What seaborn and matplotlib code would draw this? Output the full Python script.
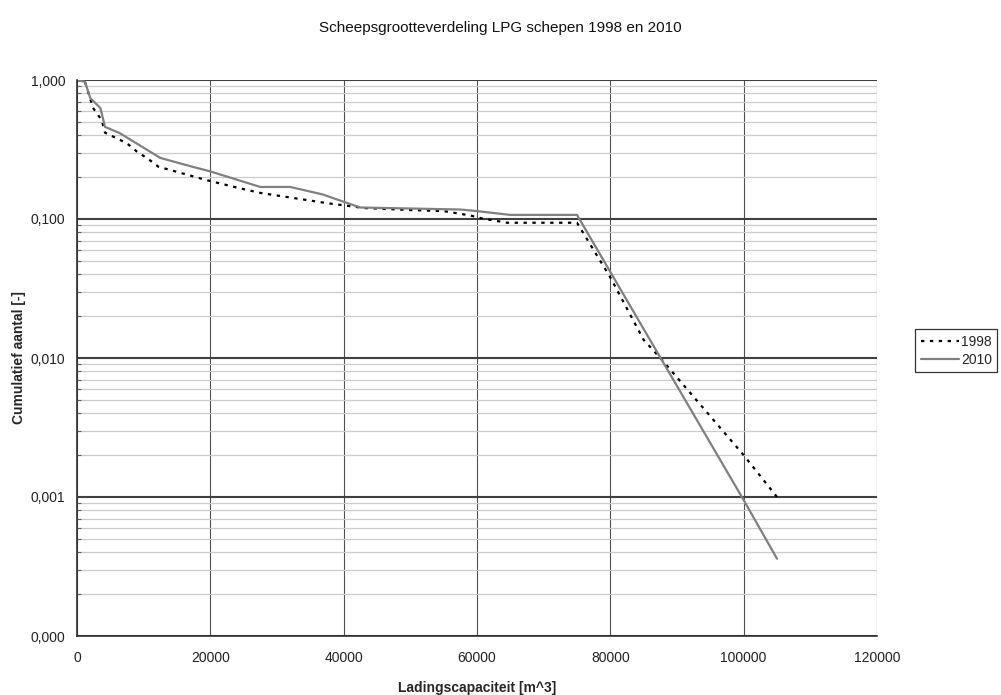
import matplotlib
matplotlib.use("Agg")
import matplotlib.pyplot as plt
from matplotlib.ticker import FixedLocator, FuncFormatter, LogLocator, NullFormatter
from matplotlib.lines import Line2D
import seaborn as sns
import pandas as pd
import numpy as np

# --- data ---
x_1998 = [0, 1200, 2400, 3700, 4200, 7500, 9000, 10700, 12200, 19500, 24500, 27500,
          37500, 41400, 43000, 50000, 55000, 59000, 60700, 64500, 75000, 80000, 85000,
          87500, 100000, 105000]
y_1998 = [1.0, 0.97, 0.63, 0.515, 0.418, 0.35, 0.305, 0.27, 0.238, 0.19, 0.166, 0.154,
          0.13, 0.123, 0.12, 0.116, 0.114, 0.106, 0.101, 0.094, 0.094, 0.038, 0.0135,
          0.01, 0.002, 0.001]

x_2010 = [0, 1200, 2000, 3500, 4200, 6400, 12500, 17400, 20000, 27500, 32000, 36900,
          40000, 42500, 57500, 60000, 65000, 75000, 100000, 105000]
y_2010 = [1.0, 0.97, 0.74, 0.63, 0.46, 0.415, 0.275, 0.237, 0.22, 0.17, 0.17, 0.15,
          0.133, 0.121, 0.117, 0.114, 0.107, 0.107, 0.00095, 0.00036]

series_names = ["1998", "2010"]
x_ticks = [0, 20000, 40000, 60000, 80000, 100000, 120000]
y_ticks = [1e-4, 1e-3, 1e-2, 1e-1, 1.0]

title = "Scheepsgrootteverdeling LPG schepen 1998 en 2010"
xlabel = "Ladingscapaciteit [m^3]"
ylabel = "Cumulatief aantal [-]"

df = pd.concat([
    pd.DataFrame({"x": x_1998, "y": y_1998, "jaar": series_names[0]}),
    pd.DataFrame({"x": x_2010, "y": y_2010, "jaar": series_names[1]}),
], ignore_index=True)

sns.set_style("white")
plt.rcParams["font.family"] = ["Liberation Sans Narrow", "Liberation Sans", "DejaVu Sans"]

W, H = 1001, 695
fig = plt.figure(figsize=(W / 100, H / 100), dpi=100)
ax = fig.add_axes([77 / W, 1 - 636 / H, 800 / W, 556 / H])

palette = {"1998": "#000000", "2010": "#808080"}
dashes = {"1998": (1.5, 2.5), "2010": ""}
sns.lineplot(data=df, x="x", y="y", hue="jaar", style="jaar", palette=palette,
             dashes=dashes, sort=False, estimator=None, linewidth=1.6, ax=ax,
             legend=False)

ax.set_yscale("log")
ax.set_xlim(0, 120000)
ax.set_ylim(1e-4, 1.0)

ax.xaxis.set_major_locator(FixedLocator(x_ticks))
ax.xaxis.set_major_formatter(FuncFormatter(lambda v, p: f"{int(v)}"))
ax.yaxis.set_major_locator(FixedLocator(y_ticks))
ax.yaxis.set_major_formatter(FuncFormatter(lambda v, p: f"{v:.3f}".replace(".", ",")))
ax.yaxis.set_minor_locator(LogLocator(base=10, subs=np.arange(2, 10), numticks=20))
ax.yaxis.set_minor_formatter(NullFormatter())

ax.grid(False)
ax.grid(True, axis="x", which="major", color="#505050", linewidth=0.8)
ax.grid(True, axis="y", which="major", color="#404040", linewidth=1.5)
ax.grid(True, axis="y", which="minor", color="#cccccc", linewidth=0.9)
ax.set_axisbelow(True)

for s in ["top", "right"]:
    ax.spines[s].set_visible(False)
for s in ["left", "bottom"]:
    ax.spines[s].set_color("#303030")
    ax.spines[s].set_linewidth(1.2)

ax.tick_params(axis="both", which="major", direction="out", length=5, width=1,
               color="#303030", labelsize=10, labelcolor="#222222")
ax.tick_params(axis="y", which="minor", direction="in", length=3, width=0.8,
               color="#606060", left=True)
ax.tick_params(axis="x", pad=6)

ax.set_xlabel(xlabel, fontsize=10, fontweight="bold", labelpad=11)
ax.set_ylabel(ylabel, fontsize=10, fontweight="bold", labelpad=3)
fig.text(0.5, 1 - 28 / H, title, ha="center", va="center", fontsize=11, color="#111111")

handles = [Line2D([0], [0], color="#000000", lw=1.6, dashes=(1.5, 2.5)),
           Line2D([0], [0], color="#808080", lw=1.6)]
leg = fig.legend(handles, series_names, loc="upper left",
                 bbox_to_anchor=(915 / W, 1 - 329 / H), frameon=True, fancybox=False,
                 edgecolor="#000000", fontsize=10, handlelength=2.8, handletextpad=0.1,
                 borderpad=0.4, labelspacing=0.3, borderaxespad=0)
leg.get_frame().set_linewidth(0.9)

fig.savefig("out.png", dpi=100)
